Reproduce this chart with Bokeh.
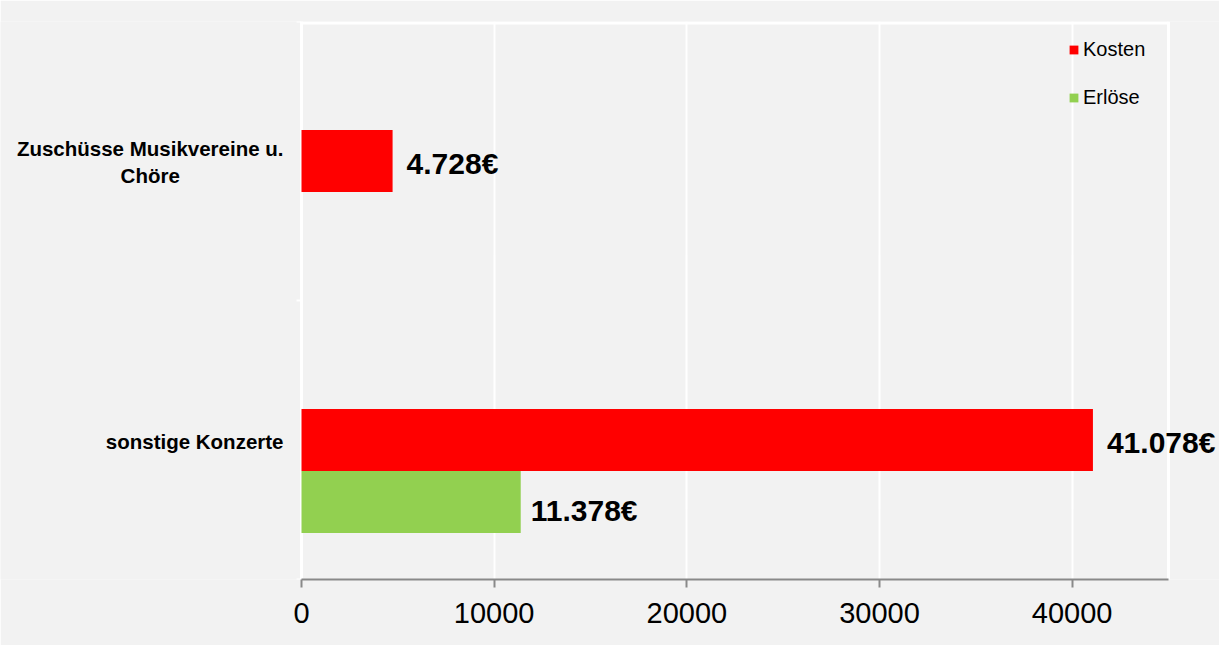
from bokeh.plotting import figure
from bokeh.models import ColumnDataSource, FixedTicker, Label, Range1d
from bokeh.embed import file_html
from bokeh.resources import INLINE

categories = ["Zuschüsse Musikvereine u.\nChöre", "sonstige Konzerte"]
kosten = [4728, 41078]
erloese = [0, 11378]
x_ticks = [0, 10000, 20000, 30000, 40000]
x_max = 45000

# layout (pixels)
W, H = 1219, 645
AX_LEFT_PX = 301          # where value 0 sits
AX_RIGHT_PX = 1168        # where x_max sits
TOP_PX, BOTTOM_PX = 21, 579
ppu = (AX_RIGHT_PX - AX_LEFT_PX) / x_max
n = len(categories)
ppy = (BOTTOM_PX - TOP_PX) / n

cat_pos = [n - i - 0.5 for i in range(n)]
bar_h = 0.222
FONT = "Liberation Sans"


def fmt(v):
    return f"{v:,}".replace(",", ".") + "€"


src_k = ColumnDataSource(dict(y=cat_pos, v=kosten))
src_e = ColumnDataSource(dict(y=[c - bar_h for c in cat_pos], v=erloese))

p = figure(width=W, height=H, output_backend="svg", toolbar_location=None,
           x_range=Range1d(-AX_LEFT_PX / ppu, (W - AX_LEFT_PX) / ppu),
           y_range=Range1d(0, n),
           min_border_left=0, min_border_right=0, min_border_top=TOP_PX,
           min_border_bottom=H - BOTTOM_PX)
p.background_fill_color = "#f2f2f2"
p.border_fill_color = "#f2f2f2"
p.outline_line_color = None

# plot-area border (white)
top_y = n - 1.5 / ppy
p.segment(x0=[0, 0, x_max], y0=[0, top_y, 0], x1=[0, x_max, x_max], y1=[n, top_y, n],
          line_color="white", line_width=3)
# category boundary ticks on the left
tick_len = 5 / ppu
p.segment(x0=[-tick_len] * (n + 1), y0=list(range(n + 1)), x1=[0] * (n + 1), y1=list(range(n + 1)),
          line_color="white", line_width=2)

p.hbar(y="y", right="v", left=0, height=bar_h, source=src_k, fill_color="#ff0000",
       line_color=None, legend_label="Kosten")
p.hbar(y="y", right="v", left=0, height=bar_h, source=src_e, fill_color="#92d050",
       line_color=None, legend_label="Erlöse")

# value labels
for i in range(n):
    if kosten[i] > 0:
        p.add_layout(Label(x=kosten[i], y=cat_pos[i], text=fmt(kosten[i]), x_offset=14, y_offset=-2,
                           text_baseline="middle", text_font=FONT, text_font_style="bold",
                           text_font_size="30px", text_color="black"))
    if erloese[i] > 0:
        p.add_layout(Label(x=erloese[i], y=cat_pos[i] - bar_h, text=fmt(erloese[i]), x_offset=10,
                           y_offset=-9, text_baseline="middle", text_font=FONT,
                           text_font_style="bold", text_font_size="30px", text_color="black"))

# category labels
for i in range(n):
    p.add_layout(Label(x=0, y=cat_pos[i], text=categories[i], x_offset=-18, y_offset=-1,
                       anchor="center_right", text_align="center", text_baseline="middle",
                       text_font=FONT, text_font_style="bold", text_font_size="20.5px",
                       text_color="black", text_line_height=1.15))

# x axis
p.xaxis.ticker = FixedTicker(ticks=x_ticks)
p.xaxis.bounds = (0, x_max)
p.xaxis.axis_line_color = "#898989"
p.xaxis.axis_line_width = 2
p.xaxis.major_tick_line_color = "#898989"
p.xaxis.major_tick_line_width = 2
p.xaxis.major_tick_out = 8
p.xaxis.major_tick_in = 0
p.xaxis.minor_tick_line_color = None
p.xaxis.major_label_text_font = FONT
p.xaxis.major_label_text_font_size = "29px"
p.xaxis.major_label_text_color = "black"
p.xaxis.major_label_standoff = 15

p.yaxis.visible = False

p.xgrid.ticker = FixedTicker(ticks=x_ticks)
p.xgrid.grid_line_color = "white"
p.xgrid.grid_line_width = 2
p.ygrid.grid_line_color = None

p.legend.location = (1068, BOTTOM_PX - 109)
p.legend.background_fill_alpha = 0
p.legend.border_line_alpha = 0
p.legend.padding = 0
p.legend.margin = 0
p.legend.spacing = 25
p.legend.glyph_width = 11
p.legend.glyph_height = 11
p.legend.label_standoff = 4
p.legend.label_text_font = FONT
p.legend.label_text_font_size = "20px"
p.legend.label_text_color = "black"
p.legend.label_height = 20

open("out.html", "w").write(file_html(p, INLINE))
